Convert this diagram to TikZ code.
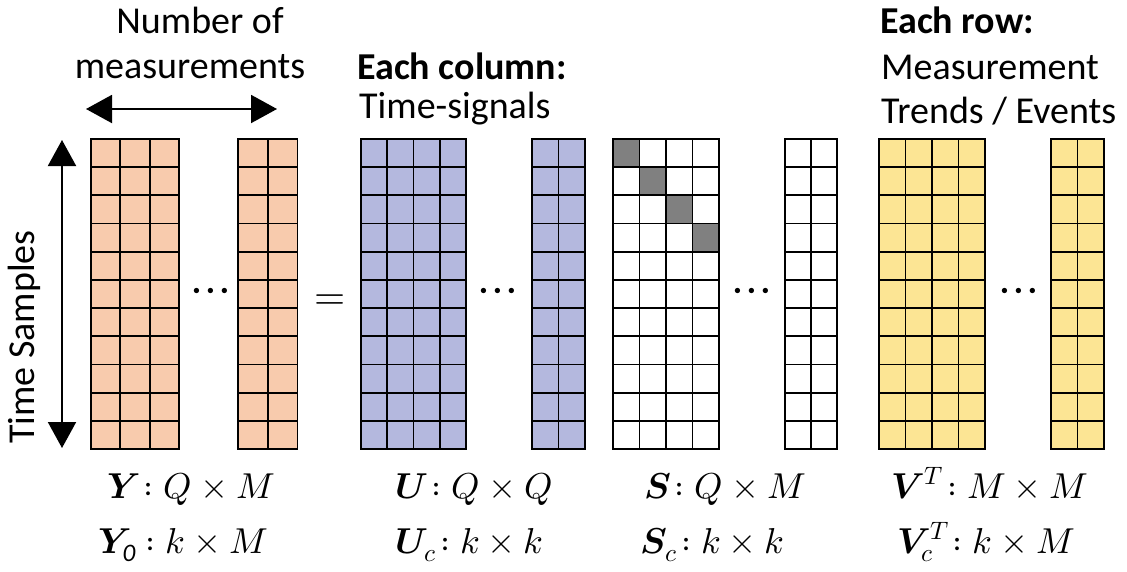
\documentclass[tikz,border=0pt]{standalone}
\usepackage{fontspec}
\usepackage{unicode-math}
\setmainfont{Carlito}
\setmathfont{Latin Modern Math}
\usetikzlibrary{arrows.meta}

\definecolor{cellorange}{HTML}{F8CBAD}
\definecolor{cellblue}{HTML}{B4B8DE}
\definecolor{cellyellow}{HTML}{FCE594}
\definecolor{cellgray}{HTML}{808080}

% one block of a matrix: #1 left x, #2 number of columns, #3 column width, #4 fill
\newcommand{\gridblock}[4]{%
  \fill[#4] (#1,139) rectangle ({#1+#2*#3},449);
  \foreach \r in {1,...,10}{
    \draw[gridline] (#1,{139+\r*310/11}) -- ({#1+#2*#3},{139+\r*310/11});
  }
  \foreach \c in {1,...,#2}{
    \ifnum\c<#2\relax
      \draw[gridline] ({#1+\c*#3},139) -- ({#1+\c*#3},449);
    \fi
  }
  \draw[gridline] (#1,139) rectangle ({#1+#2*#3},449);
}

\begin{document}
\begin{tikzpicture}[x=1pt,y=-1pt,
  gridline/.style={line width=1.8pt,black},
  txt/.style={font=\fontsize{38}{44}\selectfont,inner sep=0pt},
  lbl/.style={font=\fontsize{36}{40}\selectfont,inner sep=0pt,text height=25pt,text depth=5pt},
  dotsym/.style={font=\fontsize{50}{54}\selectfont,inner sep=0pt},
  bigarrow/.style={line width=2pt,{Triangle[length=26pt,width=28pt]}-{Triangle[length=26pt,width=28pt]}}]
\useasboundingbox (0,0) rectangle (1127,571);

% Y
\gridblock{91}{3}{29.3}{cellorange}
\gridblock{238}{2}{29.7}{cellorange}
% U
\gridblock{361}{4}{26.25}{cellblue}
\gridblock{532}{2}{26.5}{cellblue}
% S with its diagonal
\fill[white] (613,139) rectangle (719,449);
\foreach \d in {0,...,3}{
  \fill[cellgray] ({613+\d*26.5},{139+\d*310/11}) rectangle ({613+(\d+1)*26.5},{139+(\d+1)*310/11});
}
\foreach \r in {1,...,10}{
  \draw[gridline] (613,{139+\r*310/11}) -- (719,{139+\r*310/11});
}
\foreach \c in {1,2,3}{
  \draw[gridline] ({613+\c*26.5},139) -- ({613+\c*26.5},449);
}
\draw[gridline] (613,139) rectangle (719,449);
\gridblock{785}{2}{26}{white}
% V^T
\gridblock{879}{4}{26.5}{cellyellow}
\gridblock{1051}{2}{26.5}{cellyellow}

% ellipses and equals sign
\node[dotsym] (dy) at (211,296) {$\cdots$};
\node[dotsym] (du) at (498,296) {$\cdots$};
\node[dotsym] (ds) at (752,296) {$\cdots$};
\node[dotsym] (dv) at (1019,296) {$\cdots$};
\node[font=\fontsize{40}{44}\selectfont,inner sep=0pt] (eq) at (330,302) {$=$};

% axis arrows
\coordinate (hl) at (86,109);
\coordinate (hr) at (277,109);
\draw[bigarrow] (hl) -- (hr);
\coordinate (vt) at (62,140);
\coordinate (vb) at (62,448);
\draw[bigarrow] (vt) -- (vb);

% headings
\node[txt] (nof) at (200,20) {Number of};
\node[txt] (meas) at (190,67) {measurements};
\node[txt,anchor=west] (ecol) at (357,66) {\textbf{Each column:}};
\node[txt,anchor=west] (tsig) at (359,109) {Time-signals};
\node[txt,anchor=west] (erow) at (880,20) {\textbf{Each row:}};
\node[txt,anchor=west] (mtr) at (881,67) {Measurement};
\node[txt,anchor=west] (tre) at (881,111) {Trends / Events};
\node[txt,rotate=90] (tsam) at (24,337) {Time Samples};

% dimension labels
\node[lbl] (ly) at (191,488) {$\symbfit{Y}\!: Q\times M$};
\node[lbl] (ly0) at (183,543) {$\symbfit{Y}_{\mathit{0}}: k\times M$};
\node[lbl] (lu) at (474,488) {$\symbfit{U}\!: Q\times Q$};
\node[lbl] (luc) at (469,543) {$\symbfit{U}_{c}\!: k\times k$};
\node[lbl] (ls) at (725,488) {$\symbfit{S}\!: Q\times M$};
\node[lbl] (lsc) at (712,543) {$\symbfit{S}_{c}\!: k\times k$};
\node[lbl] (lv) at (990,488) {$\symbfit{V}^{T}\!: M\times M$};
\node[lbl] (lvc) at (986,543) {$\symbfit{V}_{c}^{T}\!: k\times M$};
\end{tikzpicture}
\end{document}
